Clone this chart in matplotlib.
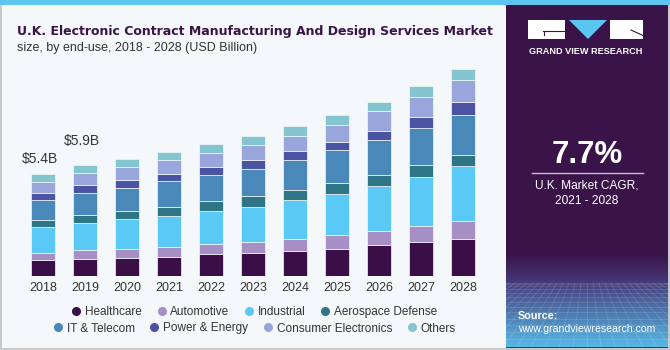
import matplotlib
matplotlib.use("Agg")
import matplotlib.pyplot as plt
import numpy as np
from matplotlib.patches import Rectangle, Polygon
from matplotlib.lines import Line2D

# ---------------- data ----------------
years = ["2018", "2019", "2020", "2021", "2022", "2023", "2024", "2025", "2026", "2027", "2028"]
segments = ["Healthcare", "Automotive", "Industrial", "Aerospace Defense",
            "IT & Telecom", "Power & Energy", "Consumer Electronics", "Others"]
healthcare = [0.83, 0.89, 0.97, 1.03, 1.17, 1.22, 1.35, 1.45, 1.63, 1.79, 1.96]
automotive = [0.41, 0.48, 0.48, 0.53, 0.53, 0.58, 0.62, 0.71, 0.76, 0.89, 0.96]
industrial = [1.36, 1.43, 1.59, 1.65, 1.77, 1.88, 2.05, 2.19, 2.39, 2.57, 2.92]
aerospace = [0.35, 0.42, 0.39, 0.44, 0.50, 0.57, 0.55, 0.57, 0.57, 0.64, 0.58]
it_telecom = [1.10, 1.20, 1.26, 1.42, 1.38, 1.43, 1.59, 1.75, 1.86, 1.98, 2.14]
power_energy = [0.37, 0.39, 0.41, 0.37, 0.42, 0.48, 0.48, 0.42, 0.50, 0.57, 0.69]
consumer_electronics = [0.57, 0.66, 0.67, 0.71, 0.76, 0.78, 0.80, 0.92, 1.03, 1.04, 1.15]
others = [0.41, 0.42, 0.44, 0.41, 0.46, 0.48, 0.53, 0.53, 0.51, 0.60, 0.57]
value_labels = {"2018": "$5.4B", "2019": "$5.9B"}
cagr_text = "7.7%"

series = [healthcare, automotive, industrial, aerospace, it_telecom,
          power_energy, consumer_electronics, others]
colors = ["#3a0f48", "#a58fc4", "#5bc9f5", "#2e7585", "#4a88ba",
          "#4a54a2", "#98a6dc", "#84c5cf"]
label_offsets = {"2018": 11, "2019": 17}

W, H = 670, 350
BG = "#f4f8fb"
PURPLE = "#3a1449"

fig = plt.figure(figsize=(W / 100, H / 100), dpi=100, facecolor=BG)

# background / decoration axes in pixel coordinates
bg = fig.add_axes([0, 0, 1, 1])
bg.set_xlim(0, W)
bg.set_ylim(H, 0)
bg.axis("off")

# borders
bg.add_patch(Rectangle((0, 0), W, H, facecolor=BG, edgecolor="none"))
bg.add_patch(Rectangle((0, 0), 1.5, H, facecolor="#c8c8c8", edgecolor="none"))
bg.add_patch(Rectangle((0, H - 2.5), W, 2.5, facecolor="#c8c8c8", edgecolor="none"))
bg.add_patch(Rectangle((W - 2, 0), 2, H, facecolor="#c8c8c8", edgecolor="none"))
bg.add_patch(Rectangle((0, 0), W, 5, facecolor="#5ec6ee", edgecolor="none"))

# right panel
px0, px1, py0, py1 = 506, 668, 5, 347.5
bg.add_patch(Rectangle((px0, py0), px1 - px0, py1 - py0, facecolor=PURPLE, edgecolor="none"))

# gradient at bottom of the panel
def hex2rgb(h):
    h = h.lstrip("#")
    return np.array([int(h[i:i + 2], 16) / 255 for i in (0, 2, 4)])

stops_y = [255, 283, 300, 347.5]
stops_c = [hex2rgb(PURPLE), hex2rgb("#46397a"), hex2rgb("#4a5f98"), hex2rgb("#58b8e6")]
ys = np.linspace(255, 347.5, 200)
grad = np.zeros((200, 1, 3))
for k in range(3):
    grad[:, 0, k] = np.interp(ys, stops_y, [c[k] for c in stops_c])
bg.imshow(grad, extent=(px0, px1, 347.5, 255), aspect="auto", interpolation="bilinear", zorder=1)

# faint perspective grid
for i in range(14):
    t = i / 13
    y = 283 + (347 - 283) * t ** 1.6
    bg.plot([px0, px1], [y, y], color="white", alpha=0.14, lw=0.6, zorder=2)
for i in range(-14, 15):
    xb = 587 + i * 14
    xt = 587 + i * 6
    bg.plot([xt, xb], [283, 347], color="white", alpha=0.14, lw=0.6, zorder=2)
bg.set_xlim(0, W)
bg.set_ylim(H, 0)

# logo
bg.add_patch(Rectangle((528, 20), 37, 19, facecolor="white", edgecolor="none", zorder=3))
bg.plot([543, 565], [30.5, 30.5], color=PURPLE, lw=0.8, zorder=4)
bg.plot([543.5, 543.5], [30.5, 35], color=PURPLE, lw=0.8, zorder=4)
bg.add_patch(Polygon([(569, 20), (607, 20), (588, 39)], closed=True,
                     facecolor="#5bc6f2", edgecolor="none", zorder=3))
bg.add_patch(Rectangle((610, 20), 33, 19, facecolor="white", edgecolor="none", zorder=3))
bg.plot([631, 643], [30, 35.5], color=PURPLE, lw=0.8, zorder=4)
bg.text(585.5, 51.5, "GRAND VIEW RESEARCH", color="white", fontsize=6.6, fontweight="bold",
        ha="center", va="center", family="Liberation Sans", zorder=4)

# CAGR block
bg.text(587, 155, cagr_text, color="white", fontsize=22.5, fontweight="bold",
        ha="center", va="center", family="Liberation Sans", zorder=4)
bg.plot([532, 643], [173, 173], color="#c9bfd6", lw=1, zorder=4)
bg.text(587, 185, "U.K. Market CAGR,", color="white", fontsize=8.6,
        ha="center", va="center", family="Liberation Sans", zorder=4)
bg.text(587, 201, "2021 - 2028", color="white", fontsize=8.6,
        ha="center", va="center", family="Liberation Sans", zorder=4)

# source
bg.text(518, 316, "Source:", color="white", fontsize=7.8, fontweight="bold",
        ha="left", va="center", family="Liberation Sans", zorder=4)
bg.text(518, 329.5, "www.grandviewresearch.com", color="white", fontsize=7.6,
        ha="left", va="center", family="Liberation Sans", zorder=4)

# titles
bg.text(17, 31.5, "U.K. Electronic Contract Manufacturing And Design Services Market",
        color=PURPLE, fontsize=9.0, fontweight="bold", ha="left", va="center",
        family="DejaVu Sans")
bg.text(17, 47.5, "size, by end-use, 2018 - 2028 (USD Billion)", color="#333333",
        fontsize=9, ha="left", va="center", family="Liberation Sans")

# ---------------- chart ----------------
base_px = 276
px_per_unit = 18.83
ytop = 11.5
ax_h = ytop * px_per_unit
ax = fig.add_axes([22 / W, (H - base_px) / H, 462 / W, ax_h / H])
ax.set_facecolor("none")
x = np.arange(len(years))
bottom = np.zeros(len(years))
for vals, col, name in zip(series, colors, segments):
    ax.bar(x, vals, width=0.57, bottom=bottom, color=col, edgecolor=BG,
           linewidth=0.5, label=name, zorder=2)
    bottom += np.array(vals)

for i, yr in enumerate(years):
    if yr in value_labels:
        ax.annotate(value_labels[yr], (x[i], bottom[i]), xytext=(-2, label_offsets[yr]),
                    textcoords="offset points", ha="center", va="center",
                    fontsize=10, color="#333333", family="Liberation Sans")

ax.set_xlim(-0.5, len(years) - 0.5)
ax.set_ylim(0, ytop)
ax.set_xticks(x)
ax.set_xticklabels(years, fontsize=9, color="#333333", family="Liberation Sans")
ax.tick_params(axis="x", length=0, pad=4)
ax.set_yticks([])
for s in ax.spines.values():
    s.set_visible(False)

# legend in two centered rows
def handles_for(idx):
    return [Line2D([0], [0], marker="o", linestyle="none", markersize=5.5,
                   markerfacecolor=colors[i], markeredgecolor=colors[i]) for i in idx]

legend_kw = dict(frameon=False, ncol=4, handlelength=0.6, handletextpad=0.45,
                 columnspacing=1.35, borderaxespad=0, borderpad=0,
                 prop={"family": "Liberation Sans", "size": 8.5}, labelcolor="#333333")
row1 = [0, 1, 2, 3]
row2 = [4, 5, 6, 7]
leg1 = fig.legend(handles_for(row1), [segments[i] for i in row1], loc="center",
                  bbox_to_anchor=(255 / W, 1 - 312 / H), **legend_kw)
leg2 = fig.legend(handles_for(row2), [segments[i] for i in row2], loc="center",
                  bbox_to_anchor=(255 / W, 1 - 328.5 / H), **legend_kw)

fig.savefig("out.png", dpi=100, facecolor=BG)
